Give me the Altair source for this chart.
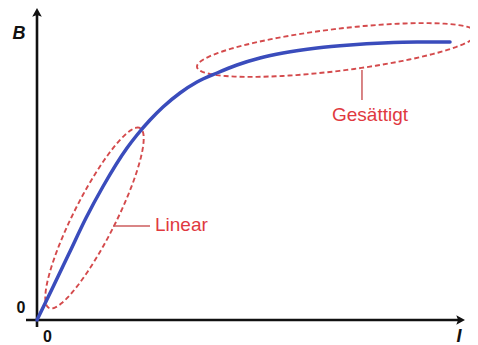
import altair as alt
import pandas as pd
import numpy as np

# ---- data ----
H_vals = [0, 3.74, 7.48, 11.45, 15.42, 21.03, 23.36, 26.40, 29.44, 33.41, 37.38,
          42.06, 46.73, 52.10, 57.48, 65.42, 73.13, 80.84, 88.79, 96.50]
B_vals = [0, 10.58, 21.31, 32.69, 42.79, 55.13, 59.29, 64.10, 68.27, 72.76, 76.28,
          79.17, 81.73, 83.97, 85.58, 87.18, 88.14, 88.78, 89.10, 89.10]

# ellipses: endpoints of major axis (data units) and semi-minor axis (px)
ell_names = ["linear", "saturated"]
ell_p1 = [(2.80, 3.85), (37.38, 81.09)]
ell_p2 = [(24.07, 61.54), (102.8, 91.99)]
ell_minor_px = [21, 21]

# labels
label_text = ["Linear", "Gesättigt"]
label_x = [27.57, 77.80]
label_y = [30.45, 65.71]
label_align = ["left", "center"]

# leader lines (x, y, x2, y2)
lead_x = [17.76, 75.93]
lead_x2 = [26.40, 75.93]
lead_y = [30.13, 80.13]
lead_y2 = [30.13, 70.51]

# ---- layout ----
W, Hh = 462, 337
XMIN, XMAX = -6.776, 101.17
YMIN, YMAX = -8.01, 100
sx = W / (XMAX - XMIN)
sy = Hh / (YMAX - YMIN)

xs = alt.Scale(domain=[XMIN, XMAX], nice=False, zero=False)
ys = alt.Scale(domain=[YMIN, YMAX], nice=False, zero=False)
X = lambda f: alt.X(f, type="quantitative", scale=xs, axis=None)
Y = lambda f: alt.Y(f, type="quantitative", scale=ys, axis=None)

RED = "#d44a4c"
TXT_RED = "#e0393f"
BLUE = "#3a4cbc"

# curve
curve_df = pd.DataFrame({"H": H_vals, "B": B_vals})
curve = alt.Chart(curve_df).mark_line(
    color=BLUE, strokeWidth=3.5, interpolate="monotone", strokeCap="round"
).encode(x=X("H"), y=Y("B"))

# ellipses
rows = []
for name, p1, p2, b in zip(ell_names, ell_p1, ell_p2, ell_minor_px):
    x1, y1 = p1[0] * sx, p1[1] * sy
    x2, y2 = p2[0] * sx, p2[1] * sy
    cx, cy = (x1 + x2) / 2, (y1 + y2) / 2
    a = np.hypot(x2 - x1, y2 - y1) / 2
    ang = np.arctan2(y2 - y1, x2 - x1)
    for i, t in enumerate(np.linspace(0, 2 * np.pi, 121)):
        ex = a * np.cos(t)
        ey = b * np.sin(t)
        px = cx + ex * np.cos(ang) - ey * np.sin(ang)
        py = cy + ex * np.sin(ang) + ey * np.cos(ang)
        rows.append({"name": name, "o": i, "x": px / sx, "y": py / sy})
ell_df = pd.DataFrame(rows)
ellipses = alt.Chart(ell_df).mark_line(
    color=RED, strokeWidth=1.9, strokeDash=[5, 3]
).encode(x=X("x"), y=Y("y"), detail="name:N", order="o:Q")

# leader lines
lead_df = pd.DataFrame({"x": lead_x, "x2": lead_x2, "y": lead_y, "y2": lead_y2})
leaders = alt.Chart(lead_df).mark_rule(color="#cc5c5e", strokeWidth=1.5).encode(
    x=X("x"), x2="x2", y=Y("y"), y2="y2"
)

# labels
lab_df = pd.DataFrame({"t": label_text, "x": label_x, "y": label_y, "al": label_align})
labels_left = alt.Chart(lab_df[lab_df.al == "left"]).mark_text(
    color=TXT_RED, font="Liberation Sans", fontSize=19, align="left", baseline="middle"
).encode(x=X("x"), y=Y("y"), text="t")
labels_center = alt.Chart(lab_df[lab_df.al == "center"]).mark_text(
    color=TXT_RED, font="Liberation Sans", fontSize=19, align="center", baseline="middle"
).encode(x=X("x"), y=Y("y"), text="t")

# axes lines
axis_df = pd.DataFrame({
    "x": [0, -2.57], "x2": [0, 100 - 6 / sx], "y": [-2.24, 0], "y2": [100 - 6 / sy, 0]
})
axes = alt.Chart(axis_df).mark_rule(color="#111111", strokeWidth=2.6).encode(
    x=X("x"), x2="x2", y=Y("y"), y2="y2"
)
arrow_path = "M0,-1L0.8,0.45L0,0.15L-0.8,0.45Z"
arr_df = pd.DataFrame({"x": [0, 100 - 6 / sx], "y": [100 - 6 / sy, 0], "a": [0, 90]})
arrows = alt.Chart(arr_df).mark_point(
    shape=arrow_path, filled=True, color="#111111", size=144, opacity=1
).encode(x=X("x"), y=Y("y"), angle=alt.Angle("a:Q", scale=None))

# axis texts
ax_df = pd.DataFrame({
    "t": ["B", "0", "0", "I"],
    "x": [-4.21, -3.74, 2.45, 98.6],
    "y": [91.8, 4.0, -5.45, -5.29],
    "st": ["italic", "normal", "normal", "italic"],
})
ax_it = alt.Chart(ax_df[ax_df.st == "italic"]).mark_text(
    font="Liberation Sans", fontSize=18, fontWeight="bold", fontStyle="italic",
    color="#111111", baseline="middle", align="center"
).encode(x=X("x"), y=Y("y"), text="t")
ax_no = alt.Chart(ax_df[ax_df.st == "normal"]).mark_text(
    font="Liberation Sans", fontSize=16, fontWeight="bold",
    color="#111111", baseline="middle", align="center"
).encode(x=X("x"), y=Y("y"), text="t")

chart = alt.layer(
    ellipses, leaders, axes, arrows, curve, labels_left, labels_center, ax_it, ax_no
).properties(
    width=W, height=Hh, padding=0, autosize=alt.AutoSizeParams(type="none")
).configure_view(stroke=None)

chart.save("out.html", embed_options={"renderer": "svg", "actions": False})
